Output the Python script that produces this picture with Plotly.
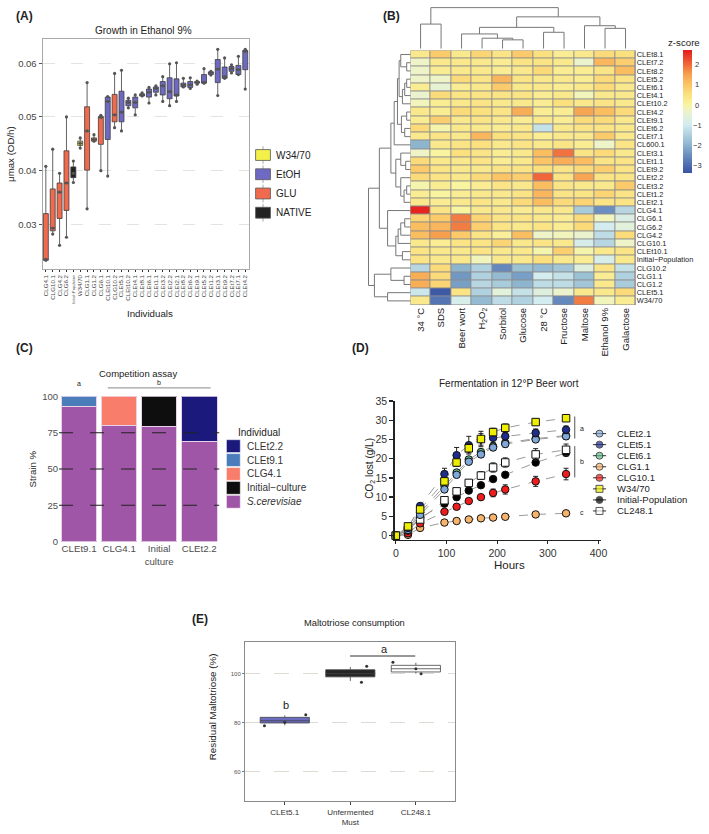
import plotly.graph_objects as go

W, H = 709, 834
FONT = "Liberation Sans, Arial, sans-serif"


def fx(px):
    return px / W


def fy(py):
    return 1 - py / H


# ---------------- Panel A data ----------------
a_names = ["CLG4.1", "CLG10.1", "CLG4.2", "CLG6.2", "Initial−Population", "W34/70", "CLG1.1", "CLG1.2",
           "CLG6.1", "CLEt10.1", "CLG10.2", "CLEt5.1", "CLEt10.2", "CLEt4.1", "CLEt8.1", "CLEt6.1",
           "CLEt1.1", "CLEt3.2", "CLEt2.2", "CLEt2.1", "CLEt8.2", "CLEt6.2", "CLEt9.1", "CLEt5.2",
           "CLEt1.2", "CLEt3.1", "CLEt9.2", "CLEt7.2", "CLEt7.1", "CLEt4.2"]
a_group = ["GLU", "GLU", "GLU", "GLU", "NATIVE", "W34/70", "GLU", "GLU", "GLU", "EtOH", "GLU", "EtOH"] + ["EtOH"] * 18
a_lo = [0.0233, 0.0282, 0.0261, 0.0276, 0.0378, 0.0442, 0.0329, 0.0455, 0.0400, 0.0390, 0.0480, 0.0474,
        0.0517, 0.0504, 0.0539, 0.0526, 0.0541, 0.0529, 0.0521, 0.0529, 0.0556, 0.0553, 0.0561, 0.0563,
        0.0578, 0.0540, 0.0572, 0.0582, 0.0579, 0.0552]
a_q1 = [0.0233, 0.0288, 0.0311, 0.0326, 0.0387, 0.0447, 0.0401, 0.0455, 0.0449, 0.0458, 0.0491, 0.0491,
        0.0521, 0.0517, 0.0539, 0.0537, 0.0546, 0.0541, 0.0534, 0.0539, 0.0556, 0.0555, 0.0563, 0.0563,
        0.0579, 0.0564, 0.0572, 0.0585, 0.0579, 0.0588]
a_med = [0.0235, 0.0293, 0.0360, 0.0377, 0.0395, 0.0451, 0.0474, 0.0458, 0.0499, 0.0529, 0.0504, 0.0509,
         0.0527, 0.0527, 0.0541, 0.0546, 0.0553, 0.0558, 0.0547, 0.0541, 0.0560, 0.0560, 0.0564, 0.0564,
         0.0583, 0.0589, 0.0575, 0.0590, 0.0588, 0.0622]
a_q3 = [0.0320, 0.0366, 0.0377, 0.0437, 0.0407, 0.0455, 0.0519, 0.0461, 0.0501, 0.0537, 0.0542, 0.0548,
        0.0531, 0.0537, 0.0543, 0.0552, 0.0556, 0.0566, 0.0573, 0.0571, 0.0563, 0.0566, 0.0566, 0.0579,
        0.0584, 0.0607, 0.0593, 0.0594, 0.0596, 0.0624]
a_hi = [0.0408, 0.0440, 0.0395, 0.0500, 0.0418, 0.0461, 0.0564, 0.0467, 0.0503, 0.0538, 0.0581, 0.0587,
        0.0535, 0.0541, 0.0545, 0.0555, 0.0558, 0.0575, 0.0599, 0.0601, 0.0572, 0.0573, 0.0567, 0.0590,
        0.0585, 0.0626, 0.0610, 0.0597, 0.0613, 0.0626]
a_yticks = [0.03, 0.04, 0.05, 0.06]
a_legend = ["W34/70", "EtOH", "GLU", "NATIVE"]
a_colors = {"W34/70": "#F3F04A", "EtOH": "#6E6AC3", "GLU": "#F26A4D", "NATIVE": "#232323"}

# ---------------- Panel B data ----------------
hm_cols = ["34 °C", "SDS", "Beer wort", "H<sub>2</sub>O<sub>2</sub>", "Sorbitol", "Glucose", "28 °C",
           "Fructose", "Maltose", "Ethanol 9%", "Galactose"]
hm_rows = ["CLEt8.1", "CLEt7.2", "CLEt8.2", "CLEt5.2", "CLEt6.1", "CLEt4.1", "CLEt10.2", "CLEt4.2",
           "CLEt9.1", "CLEt6.2", "CLEt7.1", "CL600.1", "CLEt3.1", "CLEt1.1", "CLEt9.2", "CLEt2.2",
           "CLEt3.2", "CLEt1.2", "CLEt2.1", "CLG4.1", "CLG6.1", "CLG6.2", "CLG4.2", "CLG10.1",
           "CLEt10.1", "Initial−Population", "CLG10.2", "CLG1.1", "CLG1.2", "CLEt5.1", "W34/70"]
hm_z = [
    [0.3, 0.9, 0.3, 0.7, 0.4, 0.9, 0.5, 0.2, 0.3, 0.6, 0.5],
    [-0.3, 0.3, 0.3, 0.3, 0.2, 0.4, 0.4, 0.3, -0.4, 1.2, 0.8],
    [-0.3, 0.2, 0.3, 0.3, 0.2, 0.3, 0.6, 0.2, 0.2, 0.4, 1.1],
    [-0.3, -0.3, 0.6, 0.4, 1.2, 0.4, 0.3, 0.3, 0.2, 0.6, 0.4],
    [0.2, -0.5, 0.2, 0.3, 0.9, 0.3, 0.3, 0.2, 0.3, 0.6, 0.3],
    [-0.4, 0.6, 0.4, 0.4, 0.4, 0.4, 0.2, 0.3, -0.2, 0.3, 0.3],
    [-0.2, 0.2, 0.3, 0.4, 0.3, 0.3, 0.2, 0.5, 0.3, 0.4, 0.3],
    [0.3, 0.2, 0.6, 0.5, 0.4, 1.3, 0.2, 0.2, 1.4, 1.1, 0.6],
    [0.2, 0.8, 0.3, 0.4, 0.3, 0.2, 0.3, 0.2, 0.6, 0.6, 0.3],
    [0.6, -0.1, 0.3, 0.3, 0.2, 0.3, -1.2, 0.3, 0.4, 0.4, 0.3],
    [0.3, 0.4, 0.3, 1.2, 0.5, 0.4, 0.2, 0.3, 0.3, 0.9, 0.3],
    [-2.0, 0.3, 0.4, 0.5, 0.3, 0.4, 0.3, 0.4, 0.2, -0.3, 0.4],
    [-0.3, 0.0, 0.5, 0.4, 0.2, 0.3, 1.1, 1.9, 0.4, 0.6, 0.3],
    [0.6, 0.3, 0.3, 0.4, 0.2, 0.3, 1.0, 1.3, 1.1, 0.4, 0.4],
    [0.9, 0.4, 0.3, 0.3, 0.4, 0.4, 0.5, 0.4, 0.6, 0.8, 0.4],
    [0.6, 0.4, 0.3, 0.6, 1.0, 0.8, 2.0, 0.4, 1.4, 0.4, 0.4],
    [-0.1, 0.2, 0.0, 0.2, 0.4, 0.3, 1.1, 0.4, 0.3, 0.3, 0.9],
    [0.2, 0.0, 0.2, 0.3, 0.3, 0.4, 1.2, 0.4, 0.4, 0.7, 0.4],
    [0.3, 0.2, 0.3, 0.4, 0.3, 0.6, 1.1, 0.6, 0.7, 0.4, 0.4],
    [2.6, 0.4, 0.0, 0.3, 0.3, 0.2, 0.3, 0.3, -1.6, -2.5, -1.4],
    [0.7, 0.9, 1.8, 0.7, 0.4, 0.4, 0.3, 0.2, 0.6, -0.2, -0.8],
    [1.1, 1.2, 1.8, 0.8, 0.4, 0.3, 0.4, 0.2, 0.6, -1.0, -0.6],
    [1.1, 1.5, 0.9, 0.4, 0.1, 1.1, -0.3, -0.2, -0.4, -1.3, 0.6],
    [0.3, 0.2, 0.4, 0.4, 0.7, 0.3, 0.4, 0.3, -0.9, -1.4, -0.3],
    [0.4, 0.3, 0.3, 0.4, 0.3, 0.3, -0.1, 0.8, -0.1, 0.3, 0.4],
    [0.4, 0.3, 0.3, -0.2, 0.3, 0.3, 0.5, 0.3, 0.2, -0.9, 0.3],
    [-1.4, 0.6, -2.0, -1.5, -2.6, -1.8, -1.9, -1.7, -0.7, 0.4, -1.2],
    [1.3, 0.6, -2.4, -1.5, -1.9, -2.3, -1.0, -1.2, -1.8, 0.2, -1.5],
    [1.3, 0.7, -2.3, -1.4, -1.6, -2.0, -1.3, -1.3, -1.7, 0.3, -1.6],
    [-1.1, -3.3, 0.4, -1.5, -0.6, -1.2, -0.7, -0.4, 0.3, 0.3, 0.6],
    [0.3, -2.9, -0.9, -1.9, -1.3, -1.5, -1.0, -2.6, 1.8, -0.2, 0.2],
]
hm_zmin, hm_zmax = -3.4, 2.7
hm_cbar_ticks = [-3, -2, -1, 0, 1, 2]
# dendrograms: (left, right, merge height)
col_tree = ((0, 1, 75), (((2, (3, (4, 5, 27), 32), 45), (6, 7, 50), 65), (8, (9, 10, 62), 70), 97), 125)
row_tree_a = (((0, (1, 2, 12), 30), (((3, 4, 12), 5, 18), 6, 25), 35), ((7, 8, 12), (9, 10, 18), 28), 40)
row_tree_a = (row_tree_a, 11, 50)
row_tree_b = ((12, (13, 14, 15), 30), (15, ((16, 17, 12), 18, 20), 30), 45)
row_tree_g = (19, (((((20, 21, 18), 22, 30), 23, 38), (24, 25, 25), 45)), 70)
row_tree_d = ((26, (27, 28, 20), 60), (29, 30, 70), 110)
row_tree = (((row_tree_a, row_tree_b, 60), row_tree_g, 95), row_tree_d, 128)

# ---------------- Panel C data ----------------
c_cats = ["CLEt9.1", "CLG4.1", "Initial<br>culture", "CLEt2.2"]
c_sc = [93, 80, 79, 69]
c_other = [7, 20, 21, 31]
c_other_name = ["CLEt9.1", "CLG4.1", "Initial−culture", "CLEt2.2"]
c_legend = ["CLEt2.2", "CLEt9.1", "CLG4.1", "Initial−culture", "<i>S.cerevisiae</i>"]
c_colors = {"CLEt2.2": "#1B1A7C", "CLEt9.1": "#4A7DBA", "CLG4.1": "#F97D6B",
            "Initial−culture": "#0E0E0E", "<i>S.cerevisiae</i>": "#A056A7"}
c_yticks = [0, 25, 50, 75, 100]
c_dash = [25, 50, 75]

# ---------------- Panel D data ----------------
d_hours = [0, 24, 48, 96, 120, 144, 168, 192, 216, 276, 336]
d_names = ["CLEt2.1", "CLEt5.1", "CLEt6.1", "CLG1.1", "CLG10.1", "W34/70", "Initial-Population", "CL248.1"]
d_vals = {
    "CLEt2.1": [0, 1.5, 5.4, 12.0, 15.8, 19.2, 21.1, 22.9, 23.8, 25.0, 25.8],
    "CLEt5.1": [0, 2.0, 7.7, 16.0, 20.9, 23.5, 25.0, 25.4, 25.8, 26.7, 27.5],
    "CLEt6.1": [0, 1.8, 6.0, 13.0, 16.4, 19.8, 21.7, 23.2, 24.1, 25.2, 26.0],
    "CLG1.1": [0, 0.2, 2.0, 3.4, 3.8, 4.2, 4.5, 4.7, 4.9, 5.5, 5.8],
    "CLG10.1": [0, 0.6, 3.2, 6.2, 7.5, 9.0, 10.0, 11.1, 12.0, 14.1, 16.0],
    "W34/70": [0, 2.4, 6.8, 14.1, 19.0, 22.7, 25.1, 26.9, 28.0, 29.5, 30.5],
    "Initial-Population": [0, 1.3, 4.7, 8.3, 10.0, 11.7, 13.1, 14.7, 15.8, 19.0, 21.5],
    "CL248.1": [0, 1.5, 4.2, 9.2, 11.5, 13.7, 15.6, 17.7, 19.0, 21.1, 22.3],
}
d_err = {
    "CLEt2.1": [0, 0.2, 0.4, 0.7, 0.7, 0.7, 0.8, 0.8, 0.8, 0.8, 0.8],
    "CLEt5.1": [0, 0.3, 0.6, 1.5, 2.0, 2.3, 1.5, 1.2, 1.0, 1.0, 1.0],
    "CLEt6.1": [0, 0.2, 0.4, 0.7, 0.7, 0.7, 0.8, 0.8, 0.8, 0.8, 0.8],
    "CLG1.1": [0, 0.1, 0.2, 0.2, 0.2, 0.2, 0.2, 0.2, 0.2, 0.2, 0.2],
    "CLG10.1": [0, 0.1, 0.3, 0.4, 0.5, 0.5, 0.6, 1.0, 1.2, 1.3, 1.5],
    "W34/70": [0, 0.3, 0.5, 1.0, 1.0, 1.2, 2.0, 1.0, 1.0, 0.8, 0.8],
    "Initial-Population": [0, 0.2, 0.3, 0.5, 0.5, 0.5, 0.6, 0.6, 0.6, 0.8, 0.8],
    "CL248.1": [0, 0.2, 0.3, 0.6, 0.8, 0.8, 1.0, 1.2, 1.2, 1.5, 1.5],
}
d_colors = {"CLEt2.1": "#80A8D8", "CLEt5.1": "#1E2C8C", "CLEt6.1": "#5CBD8A", "CLG1.1": "#F6B36C",
            "CLG10.1": "#EE1C1C", "W34/70": "#EEEE00", "Initial-Population": "#000000", "CL248.1": "#FFFFFF"}
d_symbols = {"W34/70": "square", "CL248.1": "square"}
d_draw_order = ["CLG1.1", "CLG10.1", "Initial-Population", "CL248.1", "CLEt6.1", "CLEt2.1", "CLEt5.1", "W34/70"]

# ---------------- Panel E data ----------------
e_cats = ["CLEt5.1", "Unfermented<br>Must", "CL248.1"]
e_q1 = [79.9, 98.7, 100.7]
e_med = [80.8, 100.0, 102.0]
e_q3 = [82.2, 101.6, 103.4]
e_lo = [78.9, 97.0, 100.0]
e_hi = [83.0, 102.7, 104.5]
e_points = [[78.8, 80.2, 83.3], [96.5, 100.0, 103.0], [104.7, 102.0, 100.0]]
e_jitter = [[-0.31, 0.0, 0.32], [0.17, -0.1, 0.25], [-0.35, 0.0, 0.08]]
e_colors = ["#6B6BC2", "#262626", "#FFFFFF"]
e_yticks = [60, 80, 100]

# =====================================================================
fig = go.Figure()
shapes = []
annotations = []


def ann(text, x, y, size=11, xanchor="center", yanchor="middle", angle=0, color="#222"):
    annotations.append(dict(text=text, x=fx(x), y=fy(y), xref="paper", yref="paper", showarrow=False,
                            xanchor=xanchor, yanchor=yanchor, textangle=angle,
                            font=dict(size=size, color=color, family=FONT)))


# ---------- Panel A ----------
for g in ["GLU", "NATIVE", "W34/70", "EtOH"]:
    idx = [i for i, gg in enumerate(a_group) if gg == g]
    fig.add_trace(go.Box(
        x=[a_names[i] for i in idx], q1=[a_q1[i] for i in idx], median=[a_med[i] for i in idx],
        q3=[a_q3[i] for i in idx], lowerfence=[a_lo[i] for i in idx], upperfence=[a_hi[i] for i in idx],
        boxpoints=False, width=0.72, whiskerwidth=0, fillcolor=a_colors[g],
        line=dict(color="#3C3C3C", width=0.8), xaxis="x", yaxis="y", showlegend=False))
fig.add_trace(go.Scatter(x=a_names * 3, y=a_lo + a_med + a_hi, mode="markers",
                         marker=dict(size=3.2, color="#555"), xaxis="x", yaxis="y", showlegend=False))
a_ticktext = [('<span style="font-size:3.8px">%s</span>' % n) if len(n) > 8 else n for n in a_names]

# legend A (drawn glyphs)
A_LEG_Y0, A_LEG_STEP = 151, 19.5
for i, name in enumerate(a_legend):
    yc = A_LEG_Y0 + A_LEG_STEP * i
    shapes.append(dict(type="line", xref="paper", yref="paper", x0=fx(264), x1=fx(264), y0=fy(yc - 9),
                       y1=fy(yc + 9), line=dict(color="#AAA", width=1)))
    shapes.append(dict(type="rect", xref="paper", yref="paper", x0=fx(256.5), x1=fx(271.5), y0=fy(yc - 5.5),
                       y1=fy(yc + 5.5), fillcolor=a_colors[name], line=dict(color="#555", width=0.8)))
    fig.add_trace(go.Scatter(x=[264], y=[yc], mode="markers", marker=dict(size=3, color="#555"),
                             xaxis="x8", yaxis="y8", showlegend=False))
    ann(name, 275, yc, size=10, xanchor="left")

ann("<b>(A)</b>", 12, 10, size=12, xanchor="left")
ann("Growth in Ethanol 9%", 143, 25, size=10)
ann("μmax (OD/h)", 8, 150, size=9.7, angle=-90)
ann("Individuals", 150, 312, size=9.7)


# ---------- Panel B ----------
def dendro(node, pos):
    if isinstance(node, int):
        return pos(node), 0, [], []
    l, r, h = node
    pl, hl, al, bl = dendro(l, pos)
    pr, hr, ar, br = dendro(r, pos)
    return (pl + pr) / 2, h, al + ar + [pl, pl, pr, pr, None], bl + br + [hl, h, h, hr, None]


_, _, cx, cy = dendro(col_tree, lambda i: i)
fig.add_trace(go.Scatter(x=cx, y=cy, mode="lines", line=dict(color="#777", width=1),
                         xaxis="x6", yaxis="y6", showlegend=False))
_, _, ry, rx = dendro(row_tree, lambda i: i)
fig.add_trace(go.Scatter(x=rx, y=ry, mode="lines", line=dict(color="#777", width=1),
                         xaxis="x7", yaxis="y7", showlegend=False))


def cpos(v):
    return (v - hm_zmin) / (hm_zmax - hm_zmin)


hm_scale = [[0, "#3953A4"], [cpos(-2.5), "#6A8FC0"], [cpos(-2.0), "#8DB6CE"], [cpos(-1.0), "#D3ECEF"],
            [cpos(-0.3), "#EEF4C8"], [cpos(0), "#F8F4A0"], [cpos(0.5), "#FBE07E"], [cpos(1.0), "#FBC465"],
            [cpos(1.5), "#F6A04E"], [cpos(2.0), "#F0663A"], [1, "#E41A1C"]]
shapes.append(dict(type="rect", xref="x2", yref="y2", x0=-0.5, x1=10.5, y0=-0.5, y1=len(hm_rows) - 0.5,
                   fillcolor="#8C8C8C", line=dict(color="#8C8C8C", width=1), layer="below"))
CB_TOP, CB_LEN = 45, 125
fig.add_trace(go.Heatmap(
    z=hm_z, x=list(range(len(hm_cols))), y=list(range(len(hm_rows))), colorscale=hm_scale,
    zmin=hm_zmin, zmax=hm_zmax, xgap=1, ygap=1, xaxis="x2", yaxis="y2",
    colorbar=dict(x=fx(689), xanchor="left", y=fy(CB_TOP), yanchor="top", len=CB_LEN / H, lenmode="fraction",
                  thickness=9, outlinewidth=0, showticklabels=False, ticks="", xpad=0, ypad=0)))
for v in hm_cbar_ticks:
    yv = CB_TOP + (hm_zmax - v) / (hm_zmax - hm_zmin) * CB_LEN
    ann(str(v).replace("-", "−"), 703, yv, size=7.5, color="#333")
ann("z-score", 708, 37, size=9.7, xanchor="right")
ann("<b>(B)</b>", 383, 10, size=12, xanchor="left")

# ---------- Panel C ----------
fig.add_trace(go.Bar(x=list(range(4)), y=c_sc, marker=dict(color=c_colors["<i>S.cerevisiae</i>"],
                                                           line=dict(color="#E9D0EB", width=1)),
                     xaxis="x3", yaxis="y3", showlegend=False))
for i in range(4):
    fig.add_trace(go.Bar(x=[i], y=[c_other[i]], marker=dict(color=c_colors[c_other_name[i]],
                                                            line=dict(color="#E9D0EB", width=1)),
                         xaxis="x3", yaxis="y3", showlegend=False))
for v in c_dash:
    shapes.append(dict(type="line", xref="x3 domain", yref="y3", x0=0, x1=1, y0=v, y1=v,
                       line=dict(color="#222", width=1.1, dash="14px,17px"), layer="above"))
ann("<b>(C)</b>", 12, 347, size=12, xanchor="left")
ann("Competition assay", 138, 372, size=9.5)
ann("a", 78, 383, size=7)
ann("b", 159, 382, size=7)
shapes.append(dict(type="line", xref="paper", yref="paper", x0=fx(107), x1=fx(211), y0=fy(387), y1=fy(387),
                   line=dict(color="#888", width=1)))
ann("Strain %", 31, 469, size=9.7, angle=-90)
ann("Individual", 260, 432, size=10)
for i, name in enumerate(c_legend):
    yc = 446 + 14.1 * i
    shapes.append(dict(type="rect", xref="paper", yref="paper", x0=fx(227), x1=fx(241), y0=fy(yc - 6.5),
                       y1=fy(yc + 6.5), fillcolor=c_colors[name], line=dict(color="white", width=0.5)))
    ann(name, 246, yc, size=10, xanchor="left", color="#333")

# ---------- Panel D ----------
for name in d_draw_order:
    fig.add_trace(go.Scatter(
        x=d_hours, y=d_vals[name], mode="lines+markers",
        line=dict(color="#9A9A9A", width=1, dash="dash"),
        marker=dict(size=7.5, color=d_colors[name], symbol=d_symbols.get(name, "circle"),
                    line=dict(color="#111", width=1)),
        error_y=dict(type="data", array=d_err[name], color="#222", thickness=1, width=2.5),
        cliponaxis=False, xaxis="x4", yaxis="y4", showlegend=False))
ann("<b>(D)</b>", 352, 347, size=12, xanchor="left")
ann("Fermentation in 12°P Beer wort", 513, 383, size=10)
ann("CO<sub>2</sub> lost (g/L)", 372, 468, size=10, angle=-90)
ann("Hours", 513, 566, size=11.5)
for y0, y1 in [(416, 438.3), (446, 477.7)]:
    shapes.append(dict(type="line", xref="paper", yref="paper", x0=fx(579.3), x1=fx(579.3), y0=fy(y0), y1=fy(y1),
                       line=dict(color="#555", width=1)))
ann("a", 583, 428, size=7, xanchor="left")
ann("b", 583, 462, size=7, xanchor="left")
ann("c", 583, 513, size=7, xanchor="left")
for i, name in enumerate(d_names):
    yc = 433.3 + 11.2 * i
    fig.add_trace(go.Scatter(x=[597.7, 604.3, 611], y=[yc] * 3, mode="lines+markers",
                             line=dict(color="#333", width=1),
                             marker=dict(size=[0, 7, 0], color=d_colors[name], symbol=d_symbols.get(name, "circle"),
                                         line=dict(color="#111", width=[0, 1, 0])),
                             xaxis="x8", yaxis="y8", showlegend=False))
    ann(name, 620, yc, size=9.5, xanchor="left", color="#222")

# ---------- Panel E ----------
for i in range(3):
    fig.add_trace(go.Box(x=[i], q1=[e_q1[i]], median=[e_med[i]], q3=[e_q3[i]], lowerfence=[e_lo[i]],
                         upperfence=[e_hi[i]], boxpoints=False, width=0.75, whiskerwidth=0,
                         fillcolor=e_colors[i], line=dict(color="#444", width=0.8),
                         xaxis="x5", yaxis="y5", showlegend=False))
    fig.add_trace(go.Scatter(x=[i + j for j in e_jitter[i]], y=e_points[i], mode="markers",
                             marker=dict(size=3, color="#333"), xaxis="x5", yaxis="y5", showlegend=False))
ann("<b>(E)</b>", 190, 621, size=12, xanchor="left")
ann("Maltotriose consumption", 357, 625, size=9.3)
ann("Residual Maltotriose (%)", 213, 710, size=9.8, angle=-90)
ann("b", 287, 708, size=11)
ann("a", 387, 652, size=11)
shapes.append(dict(type="line", xref="paper", yref="paper", x0=fx(352), x1=fx(418), y0=fy(658.7), y1=fy(658.7),
                   line=dict(color="#333", width=1)))

# =====================================================================
tf = lambda s, c="#444": dict(size=s, color=c, family=FONT)
hidden = dict(visible=False, showgrid=False, zeroline=False)
E_BOTTOM = 806
fig.update_layout(
    width=W, height=H, margin=dict(l=0, r=0, t=0, b=0),
    paper_bgcolor="white", plot_bgcolor="rgba(0,0,0,0)",
    font=dict(family=FONT, color="#222"),
    boxmode="overlay", barmode="stack", bargap=0.11, showlegend=False, hovermode=False,
    xaxis=dict(domain=[fx(41), fx(250)], anchor="y", type="category", categoryorder="array",
               categoryarray=a_names, tickmode="array", tickvals=a_names, ticktext=a_ticktext,
               range=[-0.48, 29.57], tickangle=-90, tickfont=tf(6.2),
               ticks="outside", ticklen=2, tickcolor="#333", showline=True, mirror=True,
               linecolor="#A8A8A8", showgrid=False),
    yaxis=dict(domain=[fy(267), fy(33)], anchor="x", range=[0.0216, 0.0646], tickvals=a_yticks,
               ticktext=[f"{v:.2f}" for v in a_yticks], tickfont=tf(9.5), showgrid=True, gridcolor="#E3E3E3",
               griddash="12px,16px", showline=True, mirror=True, linecolor="#A8A8A8", ticks="outside",
               ticklen=3, tickcolor="#555", zeroline=False),
    xaxis2=dict(domain=[fx(413), fx(641)], anchor="y2", range=[-0.5, 10.5], tickvals=list(range(11)),
                ticktext=hm_cols, tickangle=-90, tickfont=tf(9.5, "#222"), showgrid=False, zeroline=False,
                ticks=""),
    yaxis2=dict(domain=[fy(303), fy(45)], anchor="x2", range=[len(hm_rows) - 0.5, -0.5], side="right",
                tickvals=list(range(len(hm_rows))), ticktext=hm_rows, tickfont=tf(7.4, "#222"),
                showgrid=False, zeroline=False, ticks=""),
    xaxis3=dict(domain=[fx(57.7), fx(219.7)], anchor="y3", range=[-0.5, 3.5], tickvals=list(range(4)),
                ticktext=c_cats, tickangle=0, tickfont=tf(9.7, "#4D4D4D"), showgrid=False, zeroline=False,
                ticks=""),
    yaxis3=dict(domain=[fy(542.7), fy(395.7)], anchor="x3", range=[0, 100], tickvals=c_yticks,
                tickfont=tf(9.5, "#4D4D4D"), showgrid=False, zeroline=False, ticks=""),
    xaxis4=dict(domain=[fx(397), fx(606)], anchor="y4", range=[-2.54, 405.27], tickvals=[0, 100, 200, 300, 400],
                tickfont=tf(10.5, "#333"), showline=True, linecolor="#222", linewidth=1.3, ticks="outside",
                ticklen=3, tickwidth=1.3, tickcolor="#222", showgrid=False, zeroline=False),
    yaxis4=dict(domain=[fy(541), fy(400)], anchor="x4", range=[-1.10, 35.05], tickvals=list(range(0, 36, 5)),
                tickfont=tf(10.5, "#333"), showline=True, linecolor="#222", linewidth=1.3, ticks="outside",
                ticklen=4, tickwidth=1.3, tickcolor="#222", showgrid=False, zeroline=False),
    xaxis5=dict(domain=[fx(245.7), fx(458.3)], anchor="y5", range=[-0.608, 2.599], tickvals=[0, 1, 2],
                ticktext=e_cats, tickangle=0, tickfont=tf(8, "#333"), ticks="outside", ticklen=3,
                tickcolor="#444", showline=True, mirror=True, linecolor="#8A8A8A", showgrid=False, zeroline=False),
    yaxis5=dict(domain=[fy(E_BOTTOM), fy(644.3)], anchor="x5", range=[60 - (E_BOTTOM - 776) / 2.485, 113],
                tickvals=e_yticks, tickfont=tf(6, "#555"), showgrid=True, gridcolor="#DCDCD4",
                griddash="15px,14px", showline=True, mirror=True, linecolor="#8A8A8A", ticks="outside",
                ticklen=2, tickcolor="#777", zeroline=False),
    xaxis6=dict(domain=[fx(413), fx(641)], anchor="y6", range=[-0.5, 10.5], **hidden),
    yaxis6=dict(domain=[fy(43.3), 1], anchor="x6", range=[0, 130], **hidden),
    xaxis7=dict(domain=[fx(370), fx(413.3)], anchor="y7", range=[130, 0], **hidden),
    yaxis7=dict(domain=[fy(303), fy(45)], anchor="x7", range=[len(hm_rows) - 0.5, -0.5], **hidden),
    xaxis8=dict(domain=[0, 1], anchor="y8", range=[0, W], **hidden),
    yaxis8=dict(domain=[0, 1], anchor="x8", range=[H, 0], **hidden),
    shapes=shapes, annotations=annotations,
)

fig.write_html("out.html", config={"displayModeBar": False, "staticPlot": True},
               post_script="document.body.style.margin='0';document.body.style.overflow='hidden';")
